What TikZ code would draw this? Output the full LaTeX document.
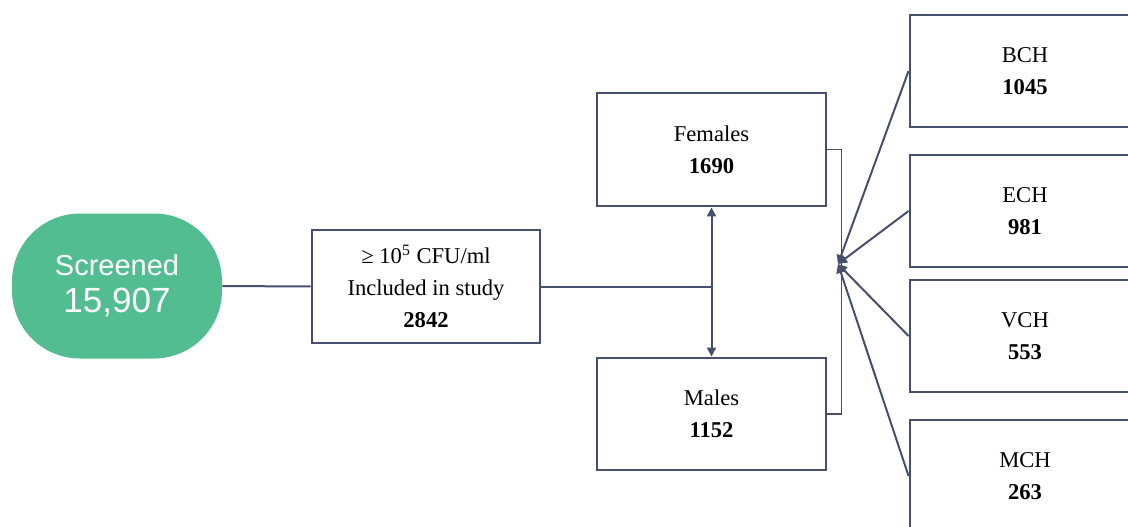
\documentclass[tikz,border=0pt]{standalone}
\usepackage{fontspec}
\setmainfont{Liberation Serif}
\newfontfamily\screenfont{Liberation Sans}
\usepackage{xcolor}
\usetikzlibrary{positioning,arrows.meta}
\definecolor{linecol}{HTML}{474F6E}
\definecolor{screengreen}{HTML}{53BD92}
\begin{document}
\begin{tikzpicture}[x=0.5pt,y=-0.5pt,
      every node/.style={align=center},
      box/.style={draw=linecol, line width=1.45pt, fill=white, inner sep=0pt,
        font=\fontsize{11.3}{16}\selectfont},
      smallbox/.style={box, minimum width=114.5pt, minimum height=56.5pt},
      sitebox/.style={box, minimum width=115pt, minimum height=56pt},
      link/.style={draw=linecol, line width=1pt},
      tip/.style={-{Triangle[length=4.5pt,width=4.5pt]}}]
    \useasboundingbox (0,0) rectangle (1128,526);
    \clip (0,0) rectangle (1128,526);
    \node[fill=screengreen, rounded corners=34pt, minimum width=105pt,
      minimum height=72.5pt, text=white,
      font=\screenfont\fontsize{14.5}{18.5}\selectfont] (screened) at (117,286)
      {Screened\\{\fontsize{17.5}{18.5}\selectfont 15,907}};
    \node[smallbox, minimum width=114pt] (incl) at (426,286.5)
      {≥ 10\textsuperscript{5} CFU/ml\\Included in study\\\textbf{2842}};
    \node[smallbox] (fem) at (711.5,149.5) {Females\\\textbf{1690}};
    \node[smallbox, minimum height=56pt] (male) at (711.5,414) {Males\\\textbf{1152}};
    \node[sitebox] (bch) at (1025,71) {BCH\\\textbf{1045}};
    \node[sitebox] (ech) at (1025,211) {ECH\\\textbf{981}};
    \node[sitebox] (vch) at (1025,336) {VCH\\\textbf{553}};
    \node[sitebox] (mch) at (1025,476) {MCH\\\textbf{263}};
    \coordinate (hub) at (838,264);
    \draw[link] (screened) -- (incl);
    \draw[link] (incl) -- (incl -| fem);
    \draw[link, {Triangle[length=4.5pt,width=4.5pt]}-{Triangle[length=4.5pt,width=4.5pt]}]
      (fem) -- (male);
    \draw[link, line width=0.8pt] (fem.east) -- ++(14,0) |- (male.east);
    \foreach \site in {bch,ech,vch,mch}
      \draw[link, tip] (\site.west) -- (hub);
  \end{tikzpicture}
\end{document}
